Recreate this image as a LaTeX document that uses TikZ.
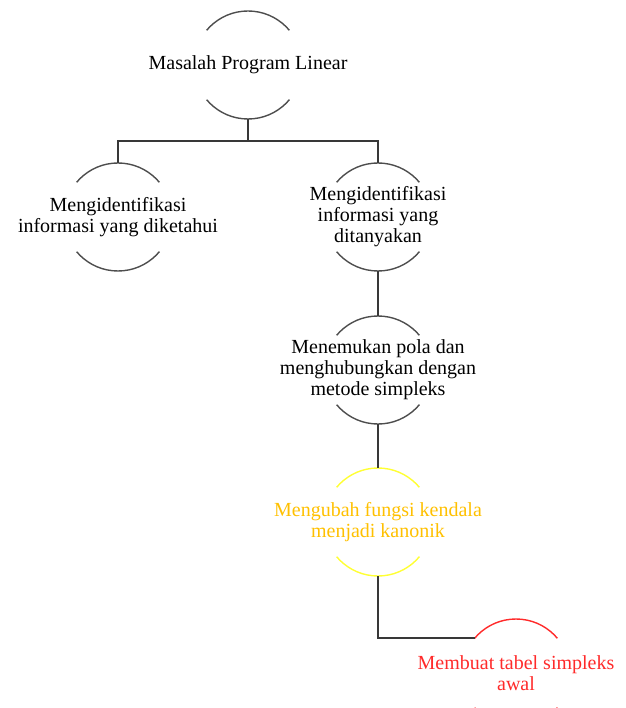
\documentclass[tikz,border=0pt]{standalone}
\usepackage{fontspec}
\setmainfont{Liberation Serif}
\definecolor{arcgray}{HTML}{4D4D4D}
\definecolor{linegray}{HTML}{383838}
\definecolor{kuning}{HTML}{FFFF33}
\definecolor{emas}{HTML}{FFC000}
\definecolor{merah}{HTML}{FF2A2A}
\tikzset{
    bubble/.style={circle, minimum size=108pt, inner sep=0pt, outer sep=0pt,
        draw=arcgray, line width=1.4pt,
        dash pattern=on 94.25pt off 75.4pt, dash phase=131.95pt},
    bubbletext/.style={font=\fontsize{20}{21}\selectfont, align=center, inner sep=0pt},
}
\begin{document}
\begin{tikzpicture}[x=1pt,y=1pt,grow=down]
        \tikzstyle{edge from parent}=[draw=linegray, line width=1.8pt]
        \tikzstyle{level 1}=[sibling distance=260pt, level distance=152pt,
            edge from parent path={(\tikzparentnode.south) -- ++(0,-22) -| (\tikzchildnode.north)}]
        \tikzstyle{level 2}=[level distance=153pt,
            edge from parent path={(\tikzparentnode.south) -- (\tikzchildnode.north)}]
        \tikzstyle{level 3}=[level distance=152pt]
        \tikzstyle{level 4}=[level distance=151pt,
            edge from parent path={(\tikzparentnode.south) |- (\tikzchildnode.140)}]
        \useasboundingbox (0,0) rectangle (625,-708);
        \clip (0,0) rectangle (625,-708);
        \node[bubble, label={[bubbletext]center:Masalah Program Linear}] (masalah) at (248,-65) {}
        child {
            node[bubble, label={[bubbletext]center:{Mengidentifikasi\\informasi yang diketahui}}] (diketahui) {}
        }
        child {
            node[bubble, label={[bubbletext]center:{Mengidentifikasi\\informasi yang\\ditanyakan}}] (ditanyakan) {}
            child {
                node[bubble, label={[bubbletext]center:{Menemukan pola dan\\menghubungkan dengan\\metode simpleks}}] (pola) {}
                child {
                    node[bubble, draw=kuning, label={[bubbletext, text=emas]center:{Mengubah fungsi kendala\\menjadi kanonik}}] (kanonik) {}
                    child {
                        node[bubble, draw=merah, xshift=138pt, label={[bubbletext, text=merah]center:{Membuat tabel simpleks\\awal}}] (tabel) {}
                    }
                }
            }
        };
    \end{tikzpicture}
\end{document}
